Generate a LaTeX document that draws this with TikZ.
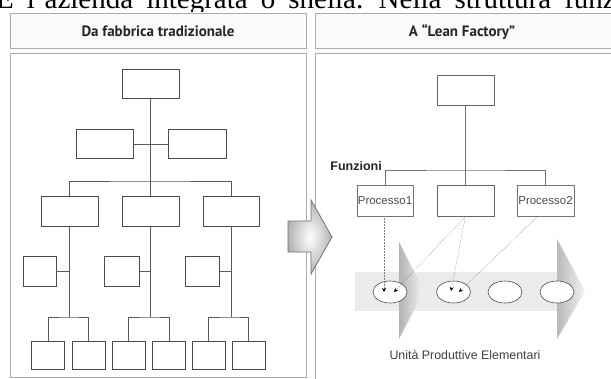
\documentclass[tikz,border=0pt]{standalone}
\usepackage{fontspec}
\setmainfont{Liberation Serif}
\newfontfamily\hdrfont{PT Sans}
\newfontfamily\arialfont{Liberation Sans}
\usetikzlibrary{shapes.geometric,arrows.meta}
\begin{document}
\begin{tikzpicture}[x=1pt,y=-1pt,
  panel/.style={draw=gray!65,line width=0.6pt},
  hdr/.style={panel,fill=gray!4},
  orgbox/.style={draw=black!70,line width=0.7pt,inner sep=0pt,rectangle},
  conn/.style={draw=black!65,line width=0.7pt},
  dotarrow/.style={draw=black!50,densely dotted,line width=0.5pt,-{Stealth[length=4pt,width=4pt,black]}},
  unit/.style={ellipse,draw=black!70,line width=0.6pt,fill=white,minimum width=34pt,minimum height=22pt,inner sep=0pt},
  proc/.style={orgbox,draw=black!55,font=\arialfont\fontsize{11.5}{13}\selectfont,text=black!70},
  hdrtext/.style={font=\hdrfont\bfseries\fontsize{15}{17}\selectfont,anchor=base,text=black!85}
]
\useasboundingbox (0,0) rectangle (611,378);
\fill[white] (0,0) rectangle (611,378);
% cut-off line of book text
\begin{scope}
\clip (0,0) rectangle (611,11);
\node[anchor=base west,inner sep=0pt,font=\fontsize{29}{32}\selectfont] (booktext) at (-4,8) {\spaceskip=0.45em\relax E l'azienda integrata o snella. Nella struttura funzi};
\end{scope}
% panels
\draw[hdr] (10,13) rectangle (306,48);
\draw[hdr] (315,13) rectangle (614,48);
\draw[panel] (10,53) rectangle (306,377);
\draw[panel] (315,53) rectangle (614,381);
\node[hdrtext] (h1) at (158,36) {Da fabbrica tradizionale};
\node[hdrtext] (h2) at (462,36) {A “Lean Factory”};

% ---------- left org chart ----------
\node[orgbox,minimum width=57pt,minimum height=29pt] (l1) at (150.5,83.5) {};
\node[orgbox,minimum width=57pt,minimum height=29pt] (l2a) at (104.5,144) {};
\node[orgbox,minimum width=58pt,minimum height=29pt] (l2b) at (197,144) {};
\node[orgbox,minimum width=57pt,minimum height=30pt] (l3a) at (69.5,211) {};
\node[orgbox,minimum width=57pt,minimum height=30pt] (l3b) at (150.5,211) {};
\node[orgbox,minimum width=56pt,minimum height=30pt] (l3c) at (231,211) {};
\node[orgbox,minimum width=33pt,minimum height=30pt] (s1) at (39.5,271) {};
\node[orgbox,minimum width=35pt,minimum height=30pt] (s2) at (121.5,271) {};
\node[orgbox,minimum width=34pt,minimum height=30pt] (s3) at (202,271) {};
\foreach \n/\x in {b1/48,b2/88.5,b3/128.5,b4/169,b5/208.5,b6/248.5}
  \node[orgbox,minimum width=33pt,minimum height=28pt] (\n) at (\x,355) {};
\coordinate (bar3) at (150.5,181);
\coordinate (k1) at (69.5,317);
\coordinate (k2) at (150.5,317);
\coordinate (k3) at (231,317);
\draw[conn] (l1.south) -- (l3b.north);
\draw[conn] (l2a.east) -- (l2b.west);
\draw[conn] (l3a.north) |- (bar3) -| (l3c.north);
\draw[conn] (l3a.south) -- (k1);
\draw[conn] (l3b.south) -- (k2);
\draw[conn] (l3c.south) -- (k3);
\draw[conn] (s1.east) -- (s1.east -| l3a.south);
\draw[conn] (s2.east) -- (s2.east -| l3b.south);
\draw[conn] (s3.east) -- (s3.east -| l3c.south);
\draw[conn] (b1.north) |- (k1) -| (b2.north);
\draw[conn] (b3.north) |- (k2) -| (b4.north);
\draw[conn] (b5.north) |- (k3) -| (b6.north);

% ---------- central hollow arrow ----------
\shade[inner color=white,outer color=gray!60,draw=black!55,line width=0.8pt]
  (288,221) -- (311,221) -- (311,200) -- (332,237) -- (311,274) -- (311,252) -- (288,252) -- cycle;

% ---------- right chart ----------
\node[orgbox,draw=black!60,minimum width=57pt,minimum height=30pt] (r1) at (465.5,90) {};
\node[proc,minimum width=56pt,minimum height=31pt] (p1) at (385,200.5) {Processo1};
\node[orgbox,draw=black!60,minimum width=57pt,minimum height=31pt] (pm) at (465.5,200.5) {};
\node[proc,minimum width=57pt,minimum height=31pt] (p2) at (545.5,200.5) {Processo2};
\coordinate (rbar) at (465.5,170);
\draw[conn,draw=black!55] (r1.south) -- (pm.north);
\draw[conn,draw=black!55] (p1.north) |- (rbar) -| (p2.north);
\node[anchor=base east,inner sep=0pt,font=\arialfont\bfseries\fontsize{12.5}{14}\selectfont,text=black!85] (fz) at (382,170) {Funzioni};

% big shaded arrow with units
\fill[gray!16] (355,272) rectangle (558,311);
\shade[left color=gray!60,right color=gray!8] (399,242) -- (424,291) -- (399,339) -- cycle;
\shade[left color=gray!55,right color=gray!10] (557,239) -- (585,291) -- (557,339) -- cycle;
\node[unit] (e1) at (390,292) {};
\node[unit] (e2) at (453.5,292) {};
\node[unit] (e3) at (505,292) {};
\node[unit] (e4) at (557,292) {};
\coordinate (t1) at (384,292);
\coordinate (t2) at (394,292);
\coordinate (t3) at (451,291);
\coordinate (t4) at (459,292);
\coordinate (p2foot) at (538,216);
\draw[dotarrow] (p1.south -| t1) -- (t1);
\draw[dotarrow] (pm.south) -- (t2);
\draw[dotarrow] (pm.south) -- (t3);
\draw[dotarrow] (p2foot) -- (t4);
\node[font=\arialfont\fontsize{12.4}{14}\selectfont,text=black!75] (upe) at (465,355) {Unità Produttive Elementari};
\end{tikzpicture}
\end{document}
